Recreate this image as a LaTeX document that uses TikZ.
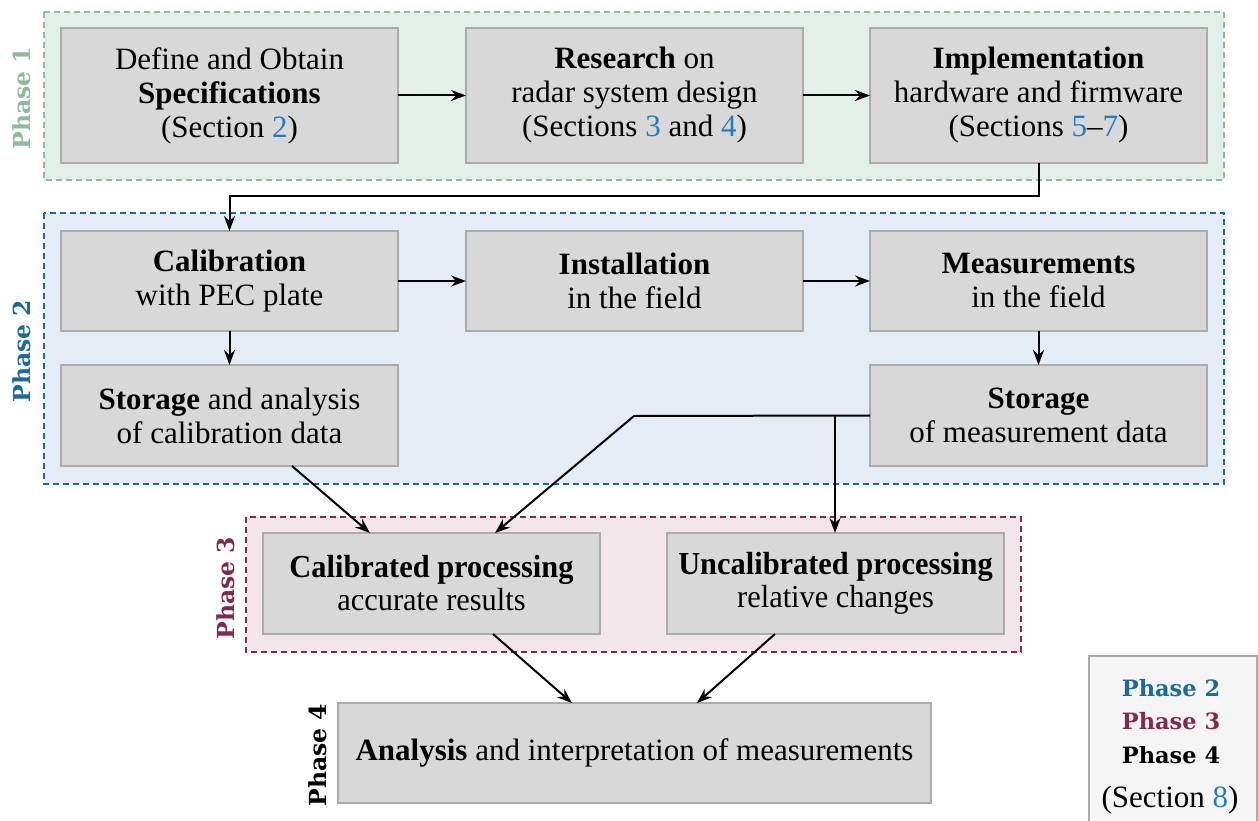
\documentclass[tikz,border=0pt]{standalone}
\usepackage{fontspec}
\setmainfont{Liberation Serif}
\newfontfamily\slab{DejaVu Serif}
\usepackage{graphicx}
\usetikzlibrary{arrows.meta}
\definecolor{boxfill}{HTML}{D8D8D8}
\definecolor{boxdraw}{HTML}{ABABAB}
\definecolor{pone}{HTML}{8DBB9C}
\definecolor{ponefill}{HTML}{E3F0E9}
\definecolor{ptwo}{HTML}{1A6A9A}
\definecolor{ptwofill}{HTML}{E4EDF5}
\definecolor{pthree}{HTML}{842850}
\definecolor{pthreefill}{HTML}{F3E6EA}
\definecolor{linkc}{HTML}{1F7EC0}
\definecolor{legfill}{HTML}{F5F5F5}
\newcommand{\lk}[1]{\textcolor{linkc}{#1}}
\begin{document}
\begin{tikzpicture}[x=1pt,y=-1pt,
  stepbox/.style={draw=boxdraw, fill=boxfill, line width=2pt, rectangle, inner sep=0pt, outer sep=0pt,
    minimum width=337pt, align=center, font=\fontsize{31}{34}\selectfont},
  frame/.style={dashed, dash pattern=on 6pt off 4pt, line width=1.5pt},
  plabel/.style={rotate=90, font=\slab\bfseries\fontsize{23.5}{27}\selectfont},
  leglabel/.style={font=\slab\bfseries\fontsize{22.5}{26}\selectfont},
  arr/.style={line width=2pt, -{Stealth[length=15pt, width=11pt, inset=5pt]}}]
\useasboundingbox (0,0) rectangle (1258,821);
% frames
\draw[frame, draw=pone, fill=ponefill] (44,12) rectangle (1224,180);
\draw[frame, draw=ptwo, fill=ptwofill] (44,213) rectangle (1224,484);
\draw[frame, draw=pthree, fill=pthreefill] (246,517) rectangle (1021,652);
% phase labels
\node[plabel, text=pone] (l1) at (22,98) {Phase 1};
\node[plabel, text=ptwo] (l2) at (22,351) {Phase 2};
\node[plabel, text=pthree] (l3) at (226,588) {Phase 3};
\node[plabel, text=black] (l4) at (318,755) {Phase 4};
% phase 1 boxes
\node[stepbox, minimum height=135pt] (b1) at (229.5,95.5) {Define and Obtain\\ \textbf{Specifications}\\ (Section \lk{2})};
\node[stepbox, minimum height=135pt] (b2) at (634.5,95.5) {\textbf{Research} on\\ radar system design\\ (Sections \lk{3} and \lk{4})};
\node[stepbox, minimum height=135pt] (b3) at (1038.5,95.5) {\textbf{Implementation}\\ hardware and firmware\\ (Sections \lk{5}--\lk{7})};
% phase 2 boxes
\node[stepbox, minimum height=100pt] (b4) at (229.5,281) {\textbf{Calibration}\\ with PEC plate};
\node[stepbox, minimum height=100pt] (b5) at (634.5,281) {\textbf{Installation}\\ in the field};
\node[stepbox, minimum height=100pt] (b6) at (1038.5,281) {\textbf{Measurements}\\ in the field};
\node[stepbox, minimum height=101pt] (b7) at (229.5,415.5) {\textbf{Storage} and analysis\\ of calibration data};
\node[stepbox, minimum height=101pt] (b8) at (1038.5,415.5) {\textbf{Storage}\\ of measurement data};
% phase 3 boxes
\node[stepbox, minimum height=101pt, font=\fontsize{32}{33}\selectfont] (b9) at (431.5,583.5) {\scalebox{0.95}[1]{\textbf{Calibrated processing}}\\ \scalebox{0.95}[1]{accurate results}};
\node[stepbox, minimum height=101pt, font=\fontsize{32}{33}\selectfont] (b10) at (835.5,583.5) {\scalebox{0.95}[1]{\textbf{Uncalibrated processing}}\\ \scalebox{0.95}[1]{relative changes}};
% phase 4 box
\node[stepbox, minimum width=593pt, minimum height=100pt] (b11) at (634.5,753) {\textbf{Analysis} and interpretation of measurements};
% legend
\draw[draw=boxdraw, fill=legfill, line width=1.5pt] (1089,656) rectangle (1257,835);
\node[leglabel, text=ptwo] (g2) at (1171,688) {Phase 2};
\node[leglabel, text=pthree] (g3) at (1171,721) {Phase 3};
\node[leglabel, text=black] (g4) at (1171,755) {Phase 4};
\node[font=\fontsize{31}{34}\selectfont] (g5) at (1170,800) {(Section \lk{8})};
% connectors
\draw[arr] (b1) -- (b2);
\draw[arr] (b2) -- (b3);
\draw[arr] (b3.south) -- ([yshift=-33pt]b3.south) -| (b4.north);
\draw[arr] (b4) -- (b5);
\draw[arr] (b5) -- (b6);
\draw[arr] (b4) -- (b7);
\draw[arr] (b6) -- (b8);
\coordinate (k1) at ([xshift=231pt]b7.south west);
\draw[arr] (k1) -- ([xshift=107pt]b9.north west);
\coordinate (k2) at (634,416);
\coordinate (j) at (835,416);
\draw[arr] (b8.west) -- (k2) -- ([xshift=232pt]b9.north west);
\draw[arr] (j) -- (j |- b10.north);
\coordinate (k3) at ([xshift=230pt]b9.south west);
\coordinate (k4) at ([xshift=108pt]b10.south west);
\draw[arr] (k3) -- ([xshift=234pt]b11.north west);
\draw[arr] (k4) -- ([xshift=359pt]b11.north west);
\end{tikzpicture}
\end{document}
